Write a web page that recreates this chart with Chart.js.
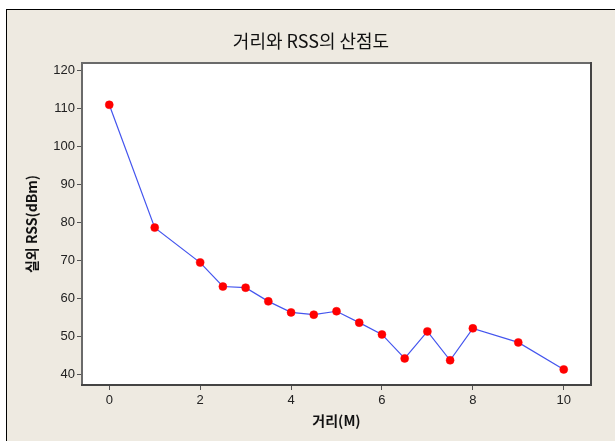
<!DOCTYPE html>
<html>
<head>
<meta charset="utf-8">
<script src="https://cdn.jsdelivr.net/npm/chart.js@4"></script>
<style>
  html, body { margin: 0; padding: 0; background: #fff; }
  #frame {
    position: absolute; left: 6px; top: 9px; width: 609px; height: 432px;
    border-left: 1px solid #000; border-top: 1px solid #000;
    background: #eeeae1; box-sizing: border-box;
  }
  #wrap { position: absolute; left: 0; top: 0; width: 608px; height: 431px; }
</style>
</head>
<body>
<div id="frame"><div id="wrap"><canvas id="myChart"></canvas></div></div>
<script>
// 거리(M) 별 실외 RSS 측정값
const distances = [0, 1, 2, 2.5, 3, 3.5, 4, 4.5, 5, 5.5, 6, 6.5, 7, 7.5, 8, 9, 10]
const rssValues = [110.9, 78.6, 69.4, 63.1, 62.8, 59.2, 56.3, 55.7, 56.6, 53.6, 50.5, 44.2, 51.3, 43.7, 52.1, 48.4, 41.3]
const xTicks = [0, 2, 4, 6, 8, 10]
const yTicks = [40, 50, 60, 70, 80, 90, 100, 110, 120]

const points = distances.map((d, i) => ({x: d, y: rssValues[i]}))

// plot area: white fill with gray frame
const plotFrame = {
    id: 'plotFrame',
    beforeDatasetsDraw(chart) {
        const {ctx, chartArea: a} = chart
        ctx.save()
        ctx.fillStyle = '#fff'
        ctx.fillRect(a.left, a.top, a.right - a.left, a.bottom - a.top)
        ctx.lineWidth = 2
        ctx.strokeStyle = '#6a6a6a'
        ctx.beginPath()
        ctx.moveTo(a.left, a.bottom)
        ctx.lineTo(a.left, a.top)
        ctx.lineTo(a.right, a.top)
        ctx.stroke()
        ctx.strokeStyle = '#444'
        ctx.beginPath()
        ctx.moveTo(a.right, a.top - 1)
        ctx.lineTo(a.right, a.bottom)
        ctx.lineTo(a.left - 1, a.bottom)
        ctx.stroke()
        ctx.restore()
    }
}

const tickFont = {family: "'Liberation Sans', 'DejaVu Sans'", size: 13}

new Chart(document.getElementById('myChart'), {
    type: 'scatter',
    data: {
        datasets: [{
            label: '실외 RSS',
            data: points,
            showLine: true,
            borderColor: '#4455ee',
            borderWidth: 1.2,
            pointBackgroundColor: '#ff0000',
            pointBorderColor: '#ff0000',
            pointRadius: 4,
            pointBorderWidth: 0.5
        }]
    },
    options: {
        responsive: true,
        maintainAspectRatio: false,
        animation: false,
        layout: {padding: 0},
        plugins: {
            legend: {display: false},
            tooltip: {enabled: false},
            title: {
                display: true,
                text: '거리와 RSS의 산점도',
                color: '#111',
                font: {family: "'Noto Sans CJK KR'", size: 18, weight: 'normal', lineHeight: 1.2},
                padding: {top: 20, bottom: 11.4}
            }
        },
        scales: {
            x: {
                type: 'linear',
                min: -0.6,
                max: 10.6,
                afterFit: s => { s.height = 56 },
                afterBuildTicks: s => { s.ticks = xTicks.map(v => ({value: v})) },
                ticks: {color: '#222', font: tickFont, padding: 3},
                grid: {drawOnChartArea: false, tickLength: 5, color: '#555'},
                border: {display: false},
                title: {
                    display: true,
                    text: '거리(M)',
                    color: '#111',
                    font: {family: "'Noto Sans CJK KR'", size: 14, weight: 'bold', lineHeight: 1.2},
                    padding: {top: 0, bottom: 12}
                }
            },
            y: {
                min: 37.2,
                max: 121.9,
                afterFit: s => { s.width = 75 },
                afterBuildTicks: s => { s.ticks = yTicks.map(v => ({value: v})) },
                ticks: {color: '#222', font: tickFont, padding: 2},
                grid: {drawOnChartArea: false, tickLength: 5, color: '#555'},
                border: {display: false},
                title: {
                    display: true,
                    text: '실외 RSS(dBm)',
                    color: '#111',
                    font: {family: "'Noto Sans CJK KR'", size: 14, weight: 'bold', lineHeight: 1.2},
                    padding: {top: 16, bottom: 0}
                }
            },
            // empty right-hand margin so the title stays centred on the whole panel
            yRight: {
                position: 'right',
                display: true,
                afterFit: s => { s.width = 24 },
                ticks: {display: false},
                grid: {display: false},
                border: {display: false}
            }
        }
    },
    plugins: [plotFrame]
});
</script>
</body>
</html>
